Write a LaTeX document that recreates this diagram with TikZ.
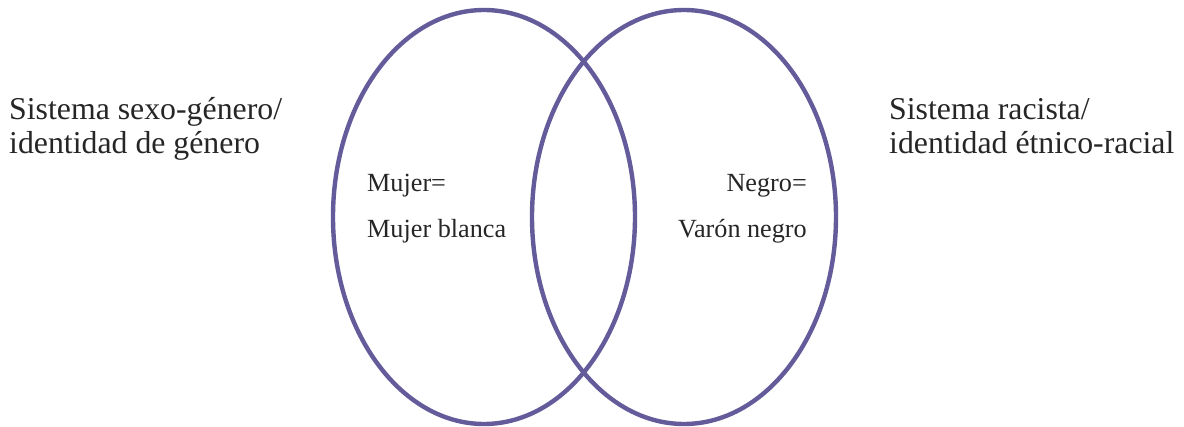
\documentclass[tikz,border=0pt]{standalone}
\usepackage{fontspec}
\setmainfont{Liberation Serif}
\usepackage{tikz}
\definecolor{venn}{HTML}{635B9A}
\tikzset{
  bigtext/.style={inner sep=0pt, font=\fontsize{31.8}{35}\selectfont, text=black!85},
  smalltext/.style={inner sep=0pt, font=\fontsize{26.2}{30}\selectfont, text=black!85},
  ring/.style={draw=venn, line width=4.4pt}
}
\begin{document}
\begin{tikzpicture}[x=1pt,y=-1pt]
\useasboundingbox (0,0) rectangle (1184,427);

\draw [ring] (484,217) ellipse (151 and 207);
\draw [ring] (684,217) ellipse (152 and 207);

\node [bigtext, anchor=base west] (gen1) at (9,120) {Sistema sexo-género/};
\node [bigtext, anchor=base west] (gen2) at (9,154) {identidad de género};
\node [bigtext, anchor=base west] (rac1) at (889,120) {Sistema racista/};
\node [bigtext, anchor=base west] (rac2) at (889,154) {identidad étnico-racial};

\node [smalltext, anchor=base west] (muj1) at (367,192) {Mujer=};
\node [smalltext, anchor=base west] (muj2) at (367,238) {Mujer blanca};
\node [smalltext, anchor=base east] (neg1) at (807,192) {Negro=};
\node [smalltext, anchor=base east] (neg2) at (807,238) {Varón negro};

\end{tikzpicture}
\end{document}
